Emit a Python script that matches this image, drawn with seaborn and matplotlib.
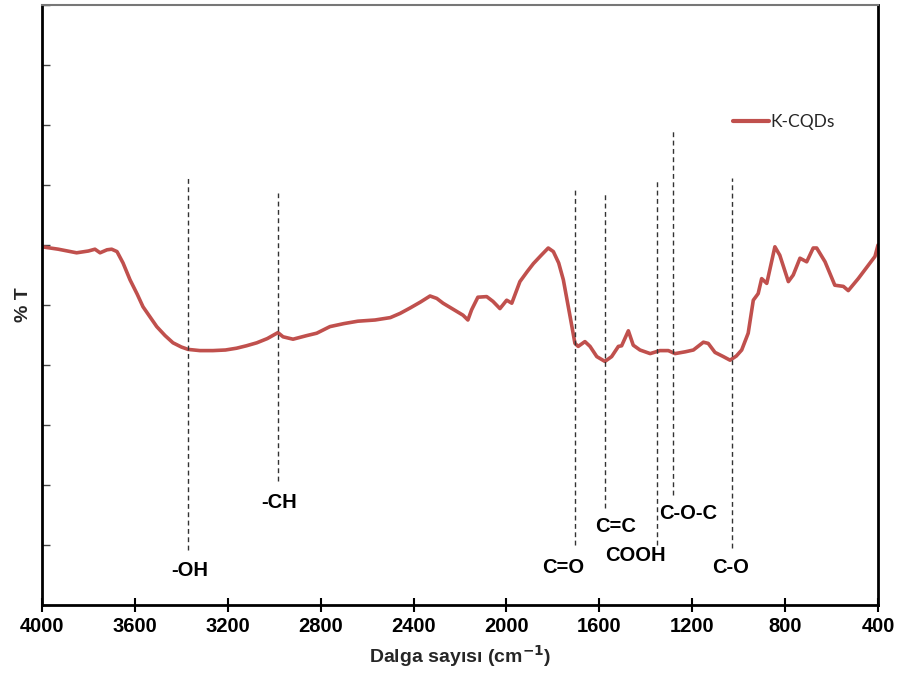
import matplotlib
matplotlib.use("Agg")
import matplotlib.pyplot as plt
import seaborn as sns
import pandas as pd

# ---- data ----
wavenumber = [4000, 3930, 3851, 3800, 3772, 3750, 3720, 3700, 3677, 3651, 3621, 3590,
              3565, 3506, 3470, 3436, 3400, 3371, 3320, 3264, 3210, 3162, 3120, 3075,
              3030, 2984, 2962, 2919, 2860, 2817, 2760, 2700, 2640, 2566, 2500, 2458,
              2415, 2370, 2329, 2300, 2273, 2230, 2187, 2166, 2150, 2123, 2085, 2058,
              2028, 1999, 1977, 1942, 1910, 1884, 1850, 1820, 1798, 1775, 1755, 1726,
              1705, 1691, 1662, 1640, 1611, 1576, 1547, 1518, 1504, 1475, 1454, 1425,
              1381, 1339, 1303, 1274, 1230, 1195, 1152, 1131, 1102, 1066, 1037, 1010,
              987, 959, 937, 916, 901, 879, 844, 823, 786, 765, 736, 707, 679, 664, 628,
              586, 549, 528, 485, 450, 413, 400]
transmittance = [59.7, 59.3, 58.7, 59.0, 59.3, 58.7, 59.2, 59.3, 58.9, 57.0, 54.2, 51.8,
                 49.7, 46.4, 44.9, 43.7, 43.0, 42.6, 42.4, 42.4, 42.5, 42.8, 43.2, 43.7,
                 44.4, 45.4, 44.7, 44.3, 44.9, 45.3, 46.4, 46.9, 47.3, 47.5, 47.9, 48.6,
                 49.5, 50.5, 51.5, 51.1, 50.3, 49.3, 48.3, 47.5, 49.2, 51.3, 51.4, 50.6,
                 49.4, 50.8, 50.3, 53.9, 55.6, 56.9, 58.3, 59.5, 58.9, 57.0, 54.2, 48.1,
                 43.6, 43.1, 43.9, 43.1, 41.4, 40.6, 41.4, 43.1, 43.2, 45.7, 43.3, 42.5,
                 41.9, 42.4, 42.4, 41.9, 42.2, 42.5, 43.8, 43.6, 42.1, 41.4, 40.8, 41.5,
                 42.5, 45.3, 50.8, 51.9, 54.4, 53.6, 59.7, 58.3, 53.9, 55.0, 57.8, 57.2,
                 59.5, 59.5, 57.2, 53.3, 53.1, 52.4, 54.4, 56.2, 58.1, 60.0]
series_name = "K-CQDs"

# annotation lines (peak position, bottom, top)
peak_pos = [3371, 2982, 1705, 1576, 1353, 1281, 1030]
peak_bottom = [9.2, 20.6, 10.0, 16.2, 10.0, 18.3, 9.5]
peak_top = [71.2, 68.7, 69.5, 68.8, 70.8, 79.2, 71.2]

# group labels
group_labels = ["-OH", "-CH", "C=O", "C=C", "COOH", "C-O-C", "C-O"]
label_x = [3363, 2979, 1756, 1532, 1446, 1218, 1037]
label_y = [5.8, 17.0, 6.3, 13.0, 8.3, 15.3, 6.3]

x_ticks = [4000, 3600, 3200, 2800, 2400, 2000, 1600, 1200, 800, 400]
y_ticks = [0, 10, 20, 30, 40, 50, 60, 70, 80, 90, 100]

df = pd.DataFrame({"wavenumber": wavenumber, "T": transmittance, "sample": series_name})

sns.set_style("white")
plt.rcParams["font.family"] = ["Liberation Sans", "DejaVu Sans"]

fig = plt.figure(figsize=(8.98, 6.75), dpi=100)
ax = fig.add_axes([42 / 898, 70 / 675, 836 / 898, 600 / 675])

sns.lineplot(data=df, x="wavenumber", y="T", hue="sample", palette=["#C0504D"],
             linewidth=2.6, ax=ax, sort=False, estimator=None)
ax.get_lines()[0].set_solid_joinstyle("round")

ax.vlines(peak_pos, peak_bottom, peak_top, colors="#333333", linestyles=(0, (3.5, 2.5)),
          linewidth=1.0)
for t, x, y in zip(group_labels, label_x, label_y):
    ax.text(x, y, t, ha="center", va="center", fontsize=14.5, fontweight="bold",
            color="black")

ax.set_xlim(4000, 400)
ax.set_ylim(0, 100)
ax.set_xticks(x_ticks)
ax.set_xticklabels([str(v) for v in x_ticks], fontsize=14.5, fontweight="bold")
ax.set_yticks(y_ticks)
ax.set_yticklabels([])
ax.tick_params(axis="x", bottom=True, direction="inout", length=10, width=1.5, pad=4,
               colors="black")
ax.tick_params(axis="y", left=True, direction="in", length=6, width=1.0, colors="#444444")

for side in ["left", "bottom", "right"]:
    ax.spines[side].set_color("black")
    ax.spines[side].set_linewidth(2.0)
ax.spines["top"].set_color("#777777")
ax.spines["top"].set_linewidth(1.5)

ax.set_xlabel("Dalga sayısı (cm$^{\\mathbf{-1}}$)", fontsize=14, fontweight="bold", labelpad=5)
ax.set_ylabel("% T", fontsize=14, fontweight="bold", labelpad=4)

leg = ax.legend(loc="center left", bbox_to_anchor=(0.826, 0.805), frameon=False,
                handlelength=2.1, handletextpad=0.1, borderpad=0, borderaxespad=0,
                prop={"family": "Lato", "size": 12.5})
for line in leg.get_lines():
    line.set_linewidth(3)

fig.savefig("out.png", dpi=100)
